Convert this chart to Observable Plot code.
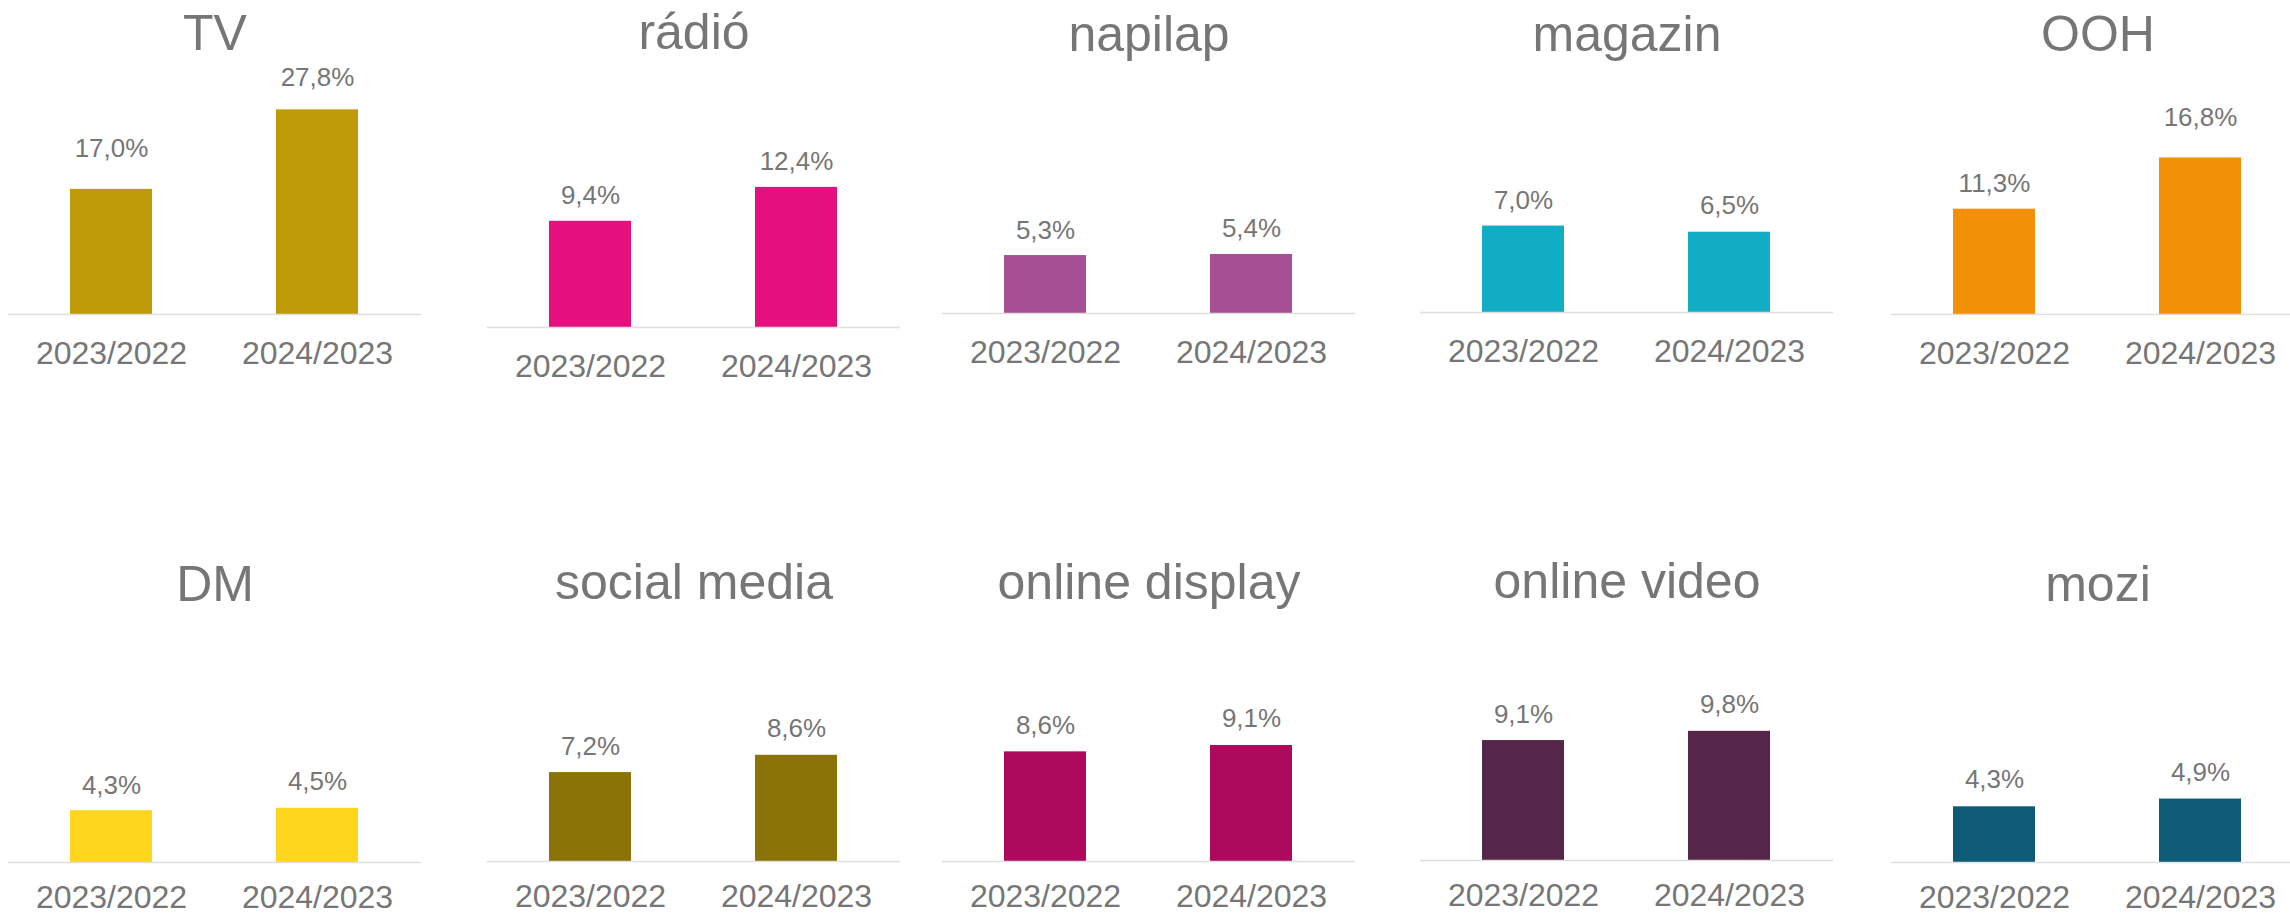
<!DOCTYPE html>
<html>
<head>
<meta charset="utf-8">
<script src="https://cdn.jsdelivr.net/npm/d3@7"></script>
<script src="https://cdn.jsdelivr.net/npm/@observablehq/plot@0.6"></script>
<style>
  html, body { margin: 0; padding: 0; background: #ffffff; overflow: hidden; }
  #wrap { position: relative; width: 2290px; height: 914px; overflow: hidden; }
  .panel { position: absolute; width: 413px; height: 457px; }
  .panel svg { overflow: visible; max-width: none !important; }
</style>
</head>
<body>
<div id="wrap"></div>
<script>
// ---- data ----
const media = ["TV", "rádió", "napilap", "magazin", "OOH", "DM", "social media", "online display", "online video", "mozi"];
const periods = ["2023/2022", "2024/2023"];
const growth2023 = [17.0, 9.4, 5.3, 7.0, 11.3, 4.3, 7.2, 8.6, 9.1, 4.3];
const growth2024 = [27.8, 12.4, 5.4, 6.5, 16.8, 4.5, 8.6, 9.1, 9.8, 4.9];
const colors = ["#BE9A08", "#E60F7E", "#A74F94", "#10ADC4", "#F29008", "#FFD61E", "#8C7308", "#AD0A5E", "#55264A", "#0D5B76"];

// ---- layout (per panel, mimicking separately sized Excel charts) ----
const colLeft = [8, 487, 942, 1420, 1891];
const rowTop = [0, 457];
const panelW = 413, panelH = 457;
const baseline = [314, 327, 313, 312, 314, 862, 861, 861, 860, 862];
const pxPerTen = [73.6, 113, 109.3, 123.5, 93.2, 120.5, 123.5, 127.5, 131.8, 129.5];
const titleBase = [49, 48, 50, 50, 50, 600, 598, 598, 597, 600];
const labelGap = [[32, 24], [17, 17], [17, 17], [17, 18], [17, 32], [17, 18], [18, 18], [18, 18], [18, 18], [19, 18]];
const tickPad = [26.5, 22.5];

const font = "'Liberation Sans', Arial, sans-serif";
const gray = "#767676";
const fmt = v => v.toFixed(1).replace(".", ",") + "%";

const wrap = document.getElementById("wrap");

media.forEach((name, i) => {
  const row = Math.floor(i / 5), col = i % 5;
  const top = rowTop[row];
  const yb = baseline[i] - top;
  const rows = periods.map((p, j) => ({period: p, value: j === 0 ? growth2023[i] : growth2024[i]}));

  const chart = Plot.plot({
    width: panelW,
    height: panelH,
    marginLeft: 0,
    marginRight: 0,
    marginTop: 0,
    marginBottom: panelH - yb,
    style: {fontFamily: font, color: gray, background: "transparent", overflow: "visible", maxWidth: "none"},
    x: {domain: periods, padding: 0.6, paddingOuter: 0.3, label: null},
    y: {domain: [0, 10], range: [yb, yb - pxPerTen[i]], axis: null},
    marks: [
      Plot.barY(rows, {x: "period", y: "value", fill: colors[i]}),
      Plot.ruleY([0], {stroke: "#dedede", strokeWidth: 1.6}),
      Plot.axisX({tickSize: 0, tickPadding: tickPad[row], fontSize: 32, fill: gray, label: null}),
      ...periods.map((p, j) => Plot.text(rows, {
        filter: d => d.period === p,
        x: "period",
        y: "value",
        text: d => fmt(d.value),
        lineAnchor: "bottom",
        dy: -labelGap[i][j],
        fontSize: 26,
        fill: gray
      })),
      Plot.text([name], {
        frameAnchor: "top",
        text: d => d,
        lineAnchor: "bottom",
        dy: titleBase[i] - top,
        fontSize: 50,
        fill: gray
      })
    ]
  });

  const div = document.createElement("div");
  div.className = "panel";
  div.style.left = colLeft[col] + "px";
  div.style.top = top + "px";
  div.appendChild(chart);
  wrap.appendChild(div);
});
</script>
</body>
</html>
